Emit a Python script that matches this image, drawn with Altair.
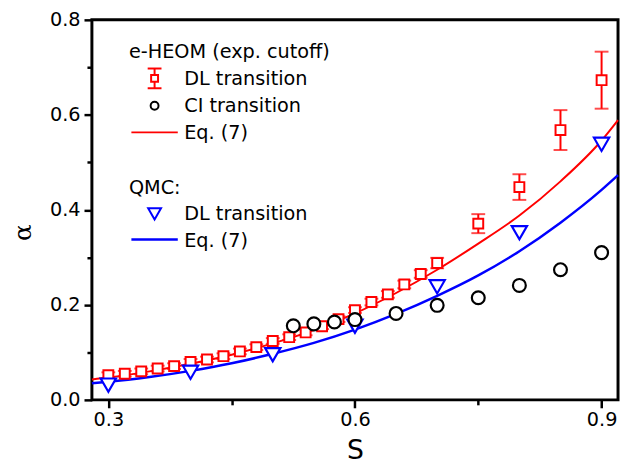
import altair as alt
import pandas as pd

# ---------------- data ----------------
s_dl = [0.30, 0.32, 0.34, 0.36, 0.38, 0.40, 0.42, 0.44, 0.46, 0.48, 0.50,
        0.52, 0.54, 0.56, 0.58, 0.60, 0.62, 0.64, 0.66, 0.68, 0.70,
        0.75, 0.80, 0.85, 0.90]
a_dl = [0.052, 0.055, 0.060, 0.066, 0.071, 0.080, 0.085, 0.092, 0.102, 0.111, 0.124,
        0.132, 0.142, 0.155, 0.170, 0.189, 0.206, 0.222, 0.243, 0.265, 0.288,
        0.371, 0.448, 0.568, 0.673]
e_dl = [0.006, 0.006, 0.006, 0.006, 0.006, 0.006, 0.006, 0.006, 0.006, 0.006, 0.006,
        0.006, 0.006, 0.006, 0.006, 0.006, 0.007, 0.007, 0.008, 0.008, 0.011,
        0.020, 0.027, 0.042, 0.060]

s_ci = [0.525, 0.55, 0.575, 0.60, 0.65, 0.70, 0.75, 0.80, 0.85, 0.90]
a_ci = [0.156, 0.160, 0.164, 0.169, 0.182, 0.199, 0.215, 0.241, 0.274, 0.310]

s_qmc = [0.30, 0.40, 0.50, 0.60, 0.70, 0.80, 0.90]
a_qmc = [0.031, 0.058, 0.095, 0.155, 0.238, 0.352, 0.538]

s_curve = [0.28, 0.30, 0.35, 0.40, 0.45, 0.50, 0.55, 0.60, 0.65, 0.70, 0.75, 0.80, 0.85, 0.90, 0.92]
eq7_heom = [0.043, 0.047, 0.060, 0.076, 0.095, 0.119, 0.147, 0.182, 0.225, 0.274, 0.329, 0.388, 0.460, 0.546, 0.589]
eq7_qmc = [0.035, 0.038, 0.048, 0.061, 0.077, 0.097, 0.120, 0.148, 0.181, 0.219, 0.262, 0.313, 0.373, 0.442, 0.473]

x_ticks = [0.3, 0.45, 0.6, 0.75, 0.9]
y_ticks = [0.0, 0.1, 0.2, 0.3, 0.4, 0.5, 0.6, 0.7, 0.8]

legend_header_1 = "e-HEOM (exp. cutoff)"
legend_header_2 = "QMC:"
legend_items = ["DL transition", "CI transition", "Eq. (7)", "DL transition", "Eq. (7)"]

RED = "#ff0000"
BLUE = "#0000ff"
FONT = "DejaVu Sans"

# ---------------- tables ----------------
df_dl = pd.DataFrame({"s": s_dl, "a": a_dl, "e": e_dl})
df_dl["lo"] = df_dl["a"] - df_dl["e"]
df_dl["hi"] = df_dl["a"] + df_dl["e"]
df_ci = pd.DataFrame({"s": s_ci, "a": a_ci})
df_qmc = pd.DataFrame({"s": s_qmc, "a": a_qmc})
df_curve = pd.DataFrame({"s": s_curve, "heom": eq7_heom, "qmc": eq7_qmc})

xscale = alt.Scale(domain=[0.28, 0.92], nice=False, zero=False)
yscale = alt.Scale(domain=[0.0, 0.8], nice=False)

minor_x = "datum.value == 0.45 || datum.value == 0.75"
minor_y = "round(datum.value * 10) % 2 == 1"

x_axis = alt.Axis(
    values=x_ticks, title="S", grid=False, domain=False,
    labelExpr="(datum.value == 0.45 || datum.value == 0.75) ? '' : format(datum.value, '.1f')",
    tickSize={"condition": {"test": minor_x, "value": 5}, "value": 8},
    tickWidth=2.5, tickColor="black", labelPadding=3,
    labelFont=FONT, labelFontSize=19.5, labelColor="black",
    titleFont=FONT, titleFontSize=27, titleFontWeight="normal", titleColor="black",
    titleBaseline="alphabetic", titleY=59,
)
y_axis = alt.Axis(
    values=y_ticks, title="α", grid=False, domain=False,
    labelExpr="(round(datum.value * 10) % 2 == 1) ? '' : format(datum.value, '.1f')",
    tickSize={"condition": {"test": minor_y, "value": 5}, "value": 8},
    tickWidth=2.5, tickColor="black", labelPadding=4,
    labelFont=FONT, labelFontSize=19.5, labelColor="black",
    titleFont="DejaVu Serif", titleFontSize=25, titleFontWeight="normal", titleColor="black",
    titleAngle=-90, titleAlign="center", titleBaseline="middle", titleX=-70, titleY=215,
)

base_dl = alt.Chart(df_dl)

line_heom = alt.Chart(df_curve).mark_line(color=RED, strokeWidth=2, interpolate="monotone").encode(
    x=alt.X("s:Q", scale=xscale, axis=x_axis),
    y=alt.Y("heom:Q", scale=yscale, axis=y_axis),
)
line_qmc = alt.Chart(df_curve).mark_line(color=BLUE, strokeWidth=2.5, interpolate="monotone").encode(
    x=alt.X("s:Q", scale=xscale),
    y=alt.Y("qmc:Q", scale=yscale),
)
err_rule = base_dl.mark_rule(color=RED, strokeWidth=2).encode(
    x="s:Q", y="lo:Q", y2="hi:Q"
)
cap_lo = base_dl.mark_tick(color=RED, orient="horizontal", size=14, thickness=2).encode(
    x="s:Q", y="lo:Q"
)
cap_hi = base_dl.mark_tick(color=RED, orient="horizontal", size=14, thickness=2).encode(
    x="s:Q", y="hi:Q"
)
pts_dl = base_dl.mark_point(shape="square", size=100, filled=False, fill="white", fillOpacity=1,
                            stroke=RED, strokeWidth=2, opacity=1).encode(x="s:Q", y="a:Q")
pts_qmc = alt.Chart(df_qmc).mark_point(shape="triangle-down", size=240, fill="white", fillOpacity=1,
                                       stroke=BLUE, strokeWidth=2.2, opacity=1).encode(x="s:Q", y="a:Q")
pts_ci = alt.Chart(df_ci).mark_point(shape="circle", size=170, fill="white", fillOpacity=1,
                                     stroke="black", strokeWidth=2.2, opacity=1).encode(x="s:Q", y="a:Q")

# ---------------- hand-built legend (pixel positions inside the plot area) ----------------
one = alt.Data(values=[{}])


def lg_text(txt, px, py):
    return alt.Chart(one).mark_text(text=txt, align="left", baseline="alphabetic", font=FONT,
                                    fontSize=19.5, color="black").encode(
        x=alt.value(px), y=alt.value(py))


def lg_symbol(shape, size, color, px, py):
    return alt.Chart(one).mark_point(shape=shape, size=size, fill="white", fillOpacity=1,
                                     stroke=color, strokeWidth=2, opacity=1).encode(
        x=alt.value(px), y=alt.value(py))


def lg_line(color, px0, px1, py, w):
    return alt.Chart(one).mark_rule(color=color, strokeWidth=w).encode(
        x=alt.value(px0), x2=alt.value(px1), y=alt.value(py))


def lg_err(px, py):
    return [
        alt.Chart(one).mark_rule(color=RED, strokeWidth=2).encode(
            x=alt.value(px), y=alt.value(py - 10), y2=alt.value(py + 10)),
        alt.Chart(one).mark_rule(color=RED, strokeWidth=2).encode(
            x=alt.value(px - 7), x2=alt.value(px + 7), y=alt.value(py - 10)),
        alt.Chart(one).mark_rule(color=RED, strokeWidth=2).encode(
            x=alt.value(px - 7), x2=alt.value(px + 7), y=alt.value(py + 10)),
    ]


TX = 37.5
IX = 93.5
SX = 63.5
legend_layers = [
    lg_text(legend_header_1, TX, 38.5),
    *lg_err(SX, 59.3),
    lg_symbol("square", 49, RED, SX, 59.3),
    lg_text(legend_items[0], IX, 65.8),
    lg_symbol("circle", 64, "black", SX, 87.0),
    lg_text(legend_items[1], IX, 93.5),
    lg_line(RED, 40, 87, 114, 2),
    lg_text(legend_items[2], IX, 120.8),
    lg_text(legend_header_2, TX, 176.8),
    lg_symbol("triangle-down", 170, BLUE, SX, 196.6),
    lg_text(legend_items[3], IX, 202.8),
    lg_line(BLUE, 40, 87, 222.6, 2.5),
    lg_text(legend_items[4], IX, 230.2),
]

chart = alt.layer(
    line_heom, line_qmc, err_rule, cap_lo, cap_hi, pts_dl, pts_qmc, pts_ci, *legend_layers
).properties(
    width=533, height=385,
    autosize=alt.AutoSizeParams(type="none"),
    padding={"left": 85, "top": 9, "right": 2, "bottom": 66},
    background="white",
).configure_view(
    stroke="black", strokeWidth=3
)

chart.save("out.html", embed_options={"renderer": "svg", "actions": False})
